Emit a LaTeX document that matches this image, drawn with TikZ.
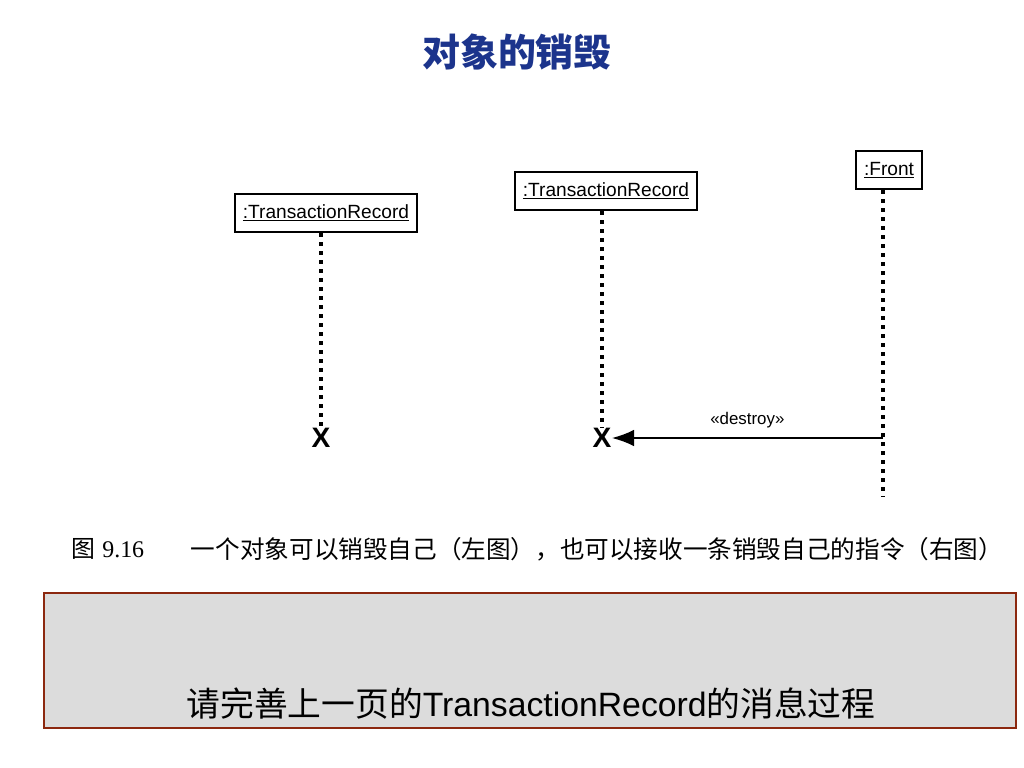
\documentclass[tikz,border=0pt]{standalone}
\usepackage{fontspec}
\setmainfont{Liberation Sans}
\newfontfamily\cjk{Noto Sans CJK SC}
\newfontfamily\serifnum{Liberation Serif}
\usetikzlibrary{arrows.meta}
\definecolor{titleblue}{RGB}{28,52,140}
\definecolor{notered}{RGB}{140,40,15}
\definecolor{notegray}{RGB}{220,220,220}

\begin{document}
\begin{tikzpicture}[
		x=0.025cm, y=-0.025cm,
		obj/.style={rectangle, draw=black, line width=1.5pt, fill=white, inner xsep=0.2cm, minimum height=0.95cm, font=\fontsize{13.6}{15}\selectfont},
		lifeline/.style={line width=2.2pt, dash pattern=on 2.8pt off 3.6pt},
		kill/.style={inner sep=0pt, font=\fontsize{20}{22}\selectfont\bfseries},
		msg/.style={line width=1.9pt, -{Latex[length=16pt, width=12pt]}},
		notebox/.style={draw=notered, line width=2pt, fill=notegray}
		]
		\useasboundingbox (0,0) rectangle (1024,768);
		
		\node (title) at (517,52) [text=titleblue, font=\fontsize{27}{30}\selectfont\bfseries\cjk] {对象的销毁};
		
		% left: object destroys itself
		\node (recA) at (326,213) [obj] {\underline{:TransactionRecord}};
		\node (xA) at (321,438) [kill] {X};
		\draw [lifeline] (recA.south -| xA) -- (xA.north);
		
		% right: destroyed by a message
		\node (recB) at (606,191) [obj] {\underline{:TransactionRecord}};
		\node (front) at (889,170) [obj] {\underline{:Front}};
		\node (xB) at (602,438) [kill] {X};
		\coordinate (frontEnd) at (883,497);
		\draw [lifeline] (recB.south -| xB) -- (xB.north);
		\draw [lifeline] (front.south -| frontEnd) -- (frontEnd);
		\draw [msg] (xB.east -| frontEnd) -- (xB.east) node[midway, above=3pt, font=\fontsize{12}{14}\selectfont] {«destroy»};
		
		\node (figno) at (108,549) [font=\fontsize{17}{20}\selectfont] {{\cjk 图} \serifnum 9.16};
		\node (caption) at (597,549) [font=\fontsize{17.5}{20}\selectfont\cjk] {一个对象可以销毁自己（左图），也可以接收一条销毁自己的指令（右图）};
		
		\draw [notebox] (44,593) rectangle (1016,728);
		\node (note) at (531,704) [font=\fontsize{24}{28}\selectfont] {{\cjk 请完善上一页的}TransactionRecord{\cjk 的消息过程}};
	\end{tikzpicture}
\end{document}
